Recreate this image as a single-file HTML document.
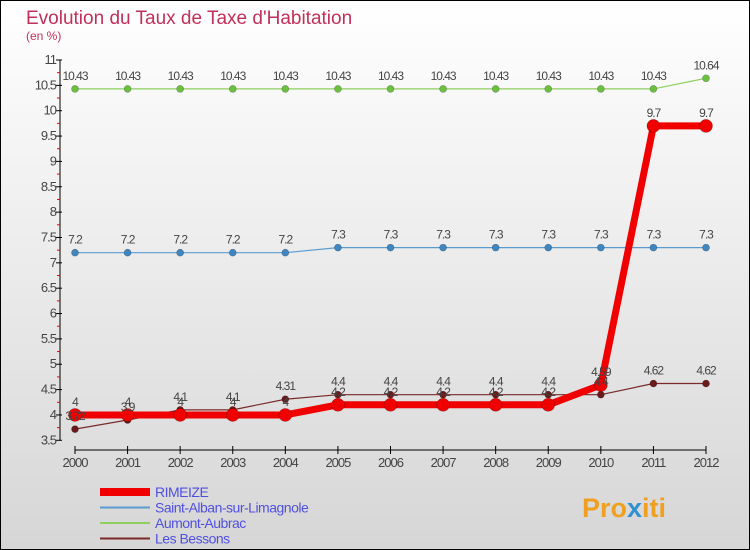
<!DOCTYPE html>
<html><head><meta charset="utf-8"><style>
body{margin:0}
svg{display:block;font-family:"Liberation Sans",sans-serif}
</style></head><body>
<svg id="c" width="750" height="550" viewBox="0 0 750 550" xmlns="http://www.w3.org/2000/svg">
<defs><linearGradient id="bg" x1="0" y1="0" x2="0" y2="1"><stop offset="0" stop-color="#ffffff"/><stop offset="1" stop-color="#d6d6d6"/></linearGradient></defs>
<rect x="0.5" y="0.5" width="749" height="549" fill="url(#bg)" stroke="#000"/>
<text x="26" y="24" font-size="19" fill="#c0305a">Evolution du Taux de Taxe d'Habitation</text>
<text x="26" y="40" font-size="12" fill="#c0305a">(en %)</text>
<g id="axes"></g><g id="series"></g><g id="labels"></g><g id="legend"></g>
<text x="582" y="517" font-size="27" font-weight="bold" fill="#f0a020">Pro<tspan fill="#3090d0">x</tspan>iti</text>
</svg>
<script>
const years=[2000,2001,2002,2003,2004,2005,2006,2007,2008,2009,2010,2011,2012];
const rimeize=[4,4,4,4,4,4.2,4.2,4.2,4.2,4.2,4.59,9.7,9.7];
const stAlban=[7.2,7.2,7.2,7.2,7.2,7.3,7.3,7.3,7.3,7.3,7.3,7.3,7.3];
const aumont=[10.43,10.43,10.43,10.43,10.43,10.43,10.43,10.43,10.43,10.43,10.43,10.43,10.64];
const bessons=[3.72,3.9,4.1,4.1,4.31,4.4,4.4,4.4,4.4,4.4,4.4,4.62,4.62];
const yTicks=[3.5,4,4.5,5,5.5,6,6.5,7,7.5,8,8.5,9,9.5,10,10.5,11];
const seriesNames=["RIMEIZE","Saint-Alban-sur-Limagnole","Aumont-Aubrac","Les Bessons"];
const NS="http://www.w3.org/2000/svg";
const X=i=>75+i*(706-75)/(years.length-1);
const Y=v=>440.3-(v-3.5)*(380.3/7.5);
function mk(p,t,a,txt){const e=document.createElementNS(NS,t);for(const k in a)e.setAttribute(k,a[k]);if(txt!==undefined)e.textContent=txt;p.appendChild(e);return e;}
const ax=document.getElementById('axes');
let e=mk(ax,'line',{x1:60,y1:Y(11),x2:60,y2:Y(3.5),stroke:'#000'});

e=mk(ax,'line',{x1:X(0),y1:450,x2:X(12),y2:450,stroke:'#000'});

yTicks.forEach((t,i)=>{
 mk(ax,'line',{x1:56,y1:Y(t),x2:62,y2:Y(t),stroke:'#000'});
 if(i<yTicks.length-1)mk(ax,'line',{x1:57,y1:Y(t+0.25),x2:60,y2:Y(t+0.25),stroke:'#e00'});
 e=mk(ax,'text',{x:56,y:Y(t)+4,'font-size':13,'text-anchor':'end',fill:'#444','letter-spacing':'-1'},String(t));
 
});
years.forEach((y,i)=>{
 mk(ax,'line',{x1:X(i),y1:446,x2:X(i),y2:454,stroke:'#000'});
 e=mk(ax,'text',{x:X(i),y:467,'font-size':13,'text-anchor':'middle',fill:'#444','letter-spacing':'-1'},String(y));
 
});
const S=document.getElementById('series'),L=document.getElementById('labels');
const defs=[[bessons,'#7a2a2a','#6a1a1a',1.2,3.5,'les-bessons'],[stAlban,'#5b9bd0','#3f86c0',1.2,3.5,'saint-alban'],[aumont,'#8ed060','#6cc040',1.2,3.5,'aumont-aubrac'],[rimeize,'#f00000','#f00000',7,6.5,'rimeize']];
defs.forEach(([d,c,pc,w,r,n])=>{
 e=mk(S,'polyline',{points:d.map((v,i)=>X(i)+','+Y(v)).join(' '),fill:'none',stroke:c,'stroke-width':w,'stroke-linejoin':'round'});
 
 d.forEach((v,i)=>{
  e=mk(S,'circle',{cx:X(i),cy:Y(v),r:r,fill:pc,stroke:'rgba(0,0,0,0.3)','stroke-width':0.6});
  
  e=mk(L,'text',{x:X(i),y:Y(v)-9,'font-size':12,'text-anchor':'middle',fill:'#444','letter-spacing':'-1'},String(v));
  
 });
});
const lg=document.getElementById('legend');
const lc=['#f00000','#5b9bd0','#8ed060','#7a2a2a'],lw=[8,2,2,2];
seriesNames.forEach((s,i)=>{
 const y=492+i*15.5;
 e=mk(lg,'line',{x1:100,y1:y,x2:150,y2:y,stroke:lc[i],'stroke-width':lw[i]});
 
 e=mk(lg,'text',{x:155,y:y+5,'font-size':14,fill:'#5050e0','letter-spacing':'-0.5'},s);
 
});
</script>
</body></html>
